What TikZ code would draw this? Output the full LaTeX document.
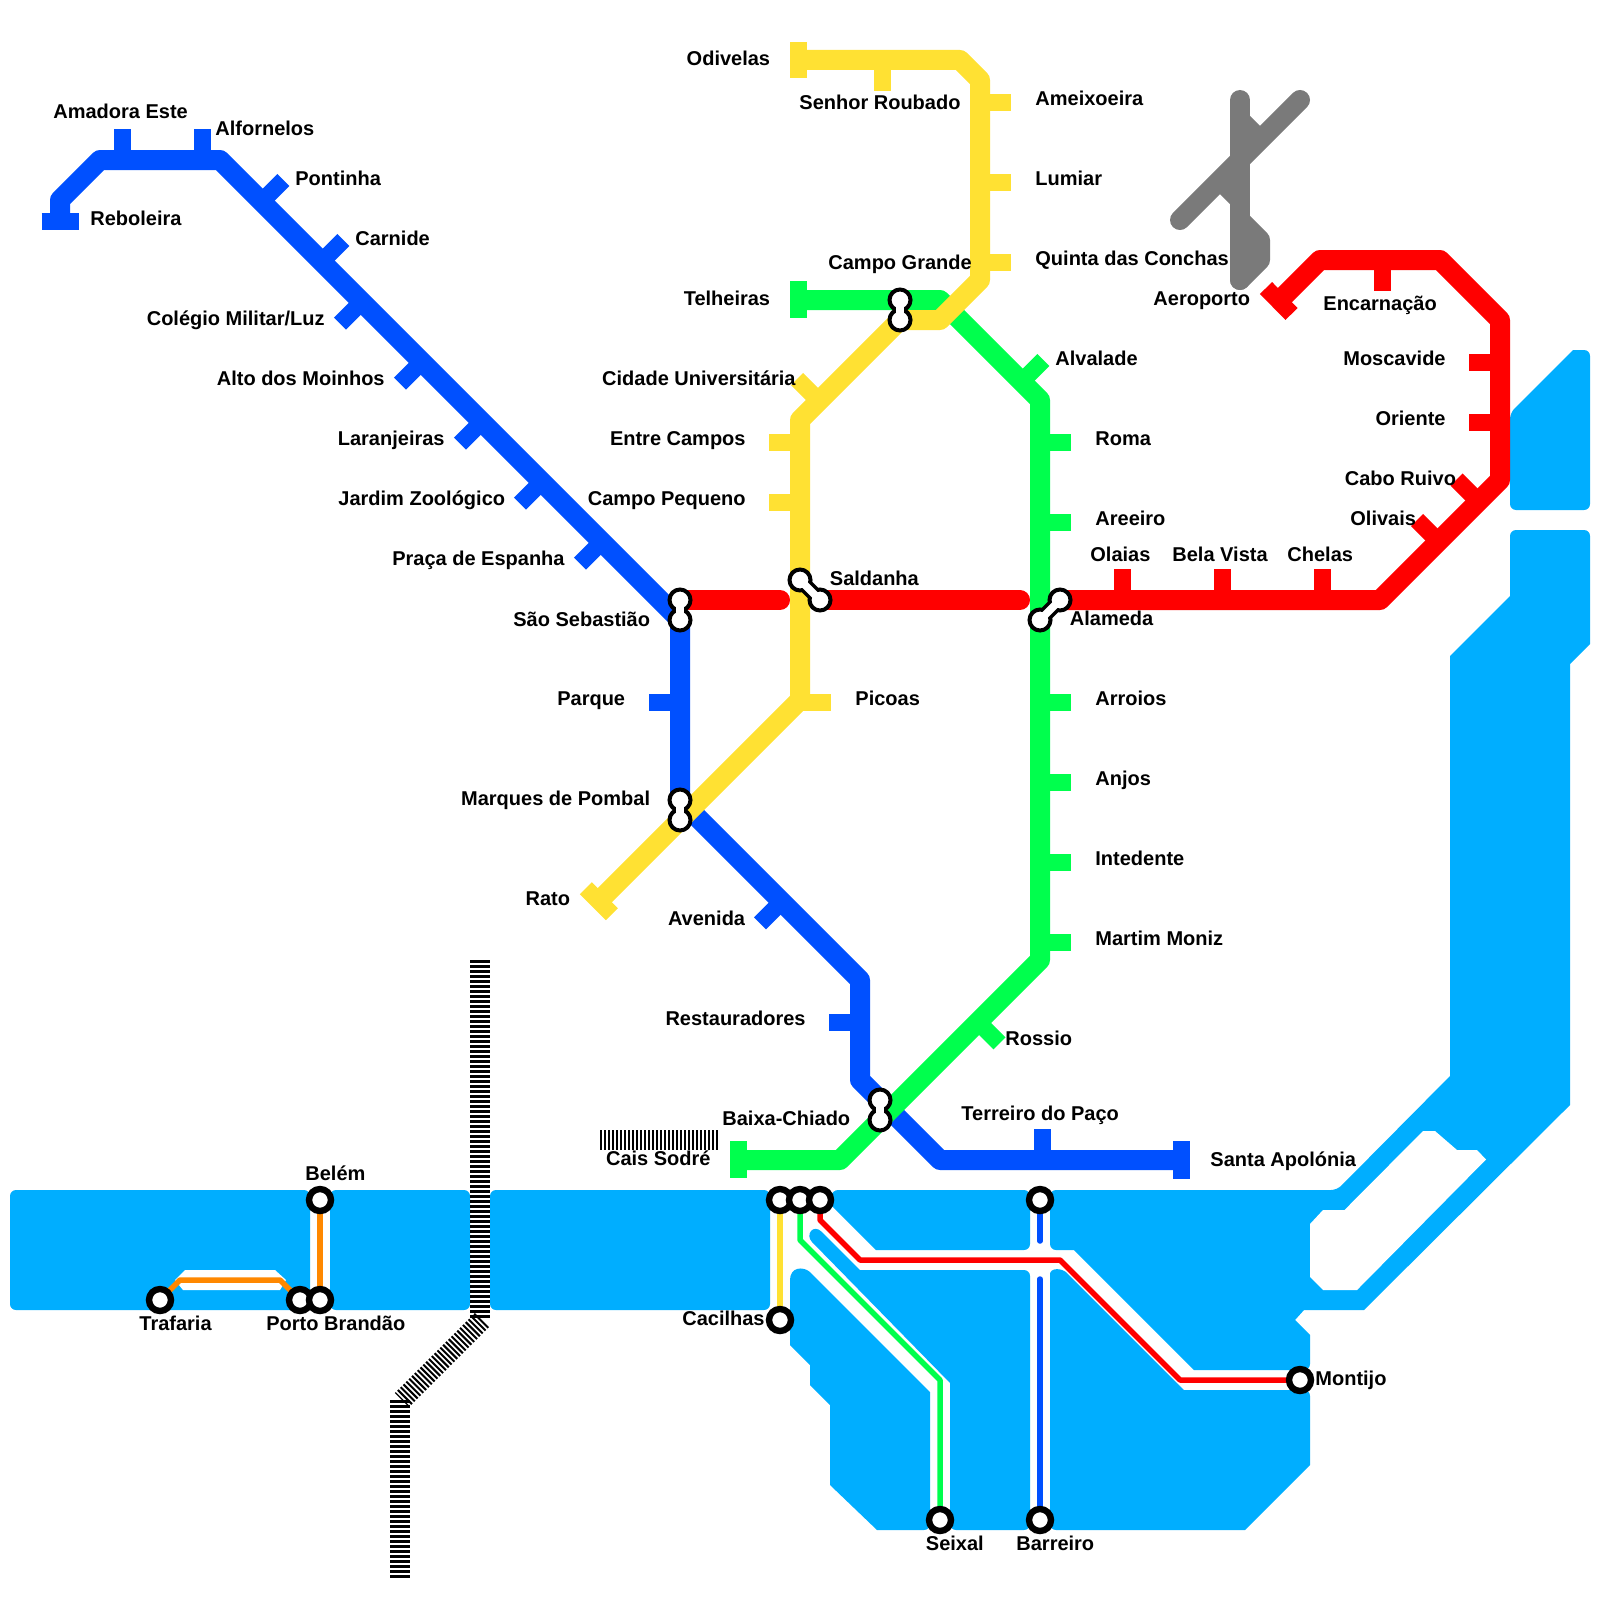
\documentclass[tikz,border=0pt]{standalone}
\usepackage{fontspec}
\setmainfont{Liberation Sans}
\usepackage{xcolor}
\usetikzlibrary{positioning}
\definecolor{MLBlue}{RGB}{0,80,255}
\definecolor{MLGreen}{RGB}{0,255,77}
\definecolor{MLYellow}{RGB}{255,225,51}
\definecolor{MLRed}{RGB}{255,0,0}
\definecolor{MLOrange}{RGB}{255,136,0}
\definecolor{MLWater}{RGB}{0,174,255}
\definecolor{MLGrey}{RGB}{122,122,122}

\begin{document}
\begin{tikzpicture}[
    x=0.5pt, y=-0.5pt,
    lbl/.style={font=\bfseries\fontsize{10pt}{12pt}\selectfont, inner sep=0pt, text=black},
    lw/.style={lbl, anchor=base west, xshift=-0.5pt, yshift=-0.5pt},
    le/.style={lbl, anchor=base east, xshift=0.5pt, yshift=-0.5pt},
    wtr/.style={fill=MLWater},
    rnd/.style={rounded corners=3pt},
    metro/.style={line width=10pt, line join=round},
    tck/.style={line width=8.5pt},
    ferry/.style={line width=2.75pt, line join=round},
    rail/.style={line width=10pt, dash pattern=on 1.25pt off 1.25pt},
    stn/.style={circle, draw=black, fill=white, line width=2pt, inner sep=0pt,
                outer sep=0pt, minimum size=10.5pt},
    fstn/.style={stn, line width=3.2pt, minimum size=11pt},
    ixo/.style={line width=7.4pt, black},
    ixi/.style={line width=3.8pt, white}
  ]
  \useasboundingbox (0,0) rectangle (1600,1600);

  % Station positions
  \coordinate (saoseba) at (680,600);
  \coordinate (saosebb) at (680,620);
  \coordinate (marqa) at (680,800);
  \coordinate (marqb) at (680,820);
  \coordinate (salda) at (800,580);
  \coordinate (saldb) at (820,600);
  \coordinate (alama) at (1060,600);
  \coordinate (alamb) at (1040,620);
  \coordinate (campa) at (900,300);
  \coordinate (campb) at (900,320);
  \coordinate (baixa) at (880,1100);
  \coordinate (baixb) at (880,1120);
  \coordinate (belem) at (320,1200);
  \coordinate (portoa) at (300,1300);
  \coordinate (portob) at (320,1300);
  \coordinate (trafaria) at (160,1300);
  \coordinate (cais) at (780,1200);
  \coordinate (caisb) at (800,1200);
  \coordinate (caisc) at (820,1200);
  \coordinate (cacilhas) at (780,1320);
  \coordinate (seixal) at (940,1520);
  \coordinate (terreiro) at (1040,1200);
  \coordinate (barreiro) at (1040,1520);
  \coordinate (montijo) at (1300,1380);

  % Water
  \fill[wtr, rnd] (10,1190) rectangle (310,1310);
  \fill[wtr, rnd] (330,1190) rectangle (470,1310);
  \fill[wtr, rnd] (490,1190) rectangle (770,1310);
  \fill[wtr] (876,1250) -- (830,1204) [rounded corners=3pt] -- (832,1190) -- (1030,1190) -- (1030,1250) [sharp corners] -- cycle;
  \fill[wtr] (812,1242) .. controls (805,1235) and (813,1223) .. (822,1232) -- (860,1270)
        [rounded corners=3pt] -- (1030,1270) -- (1030,1530) -- (950,1530) [sharp corners] -- (950,1383) -- cycle;
  \fill[wtr] (790,1345) -- (790,1280) .. controls (790,1267) and (803,1266) .. (810,1272)
        -- (930,1392) [rounded corners=3pt] -- (930,1530) [sharp corners] -- (877,1530) -- (830,1485)
        -- (830,1405) -- (810,1385) -- (810,1365) -- cycle;
  \fill[wtr] (1050,1280) .. controls (1050,1268) and (1062,1267) .. (1068,1274) -- (1184,1390)
        [rounded corners=3pt] -- (1310,1390) [sharp corners] -- (1310,1465) -- (1245,1530)
        [rounded corners=3pt] -- (1050,1530) -- cycle;
  \fill[wtr] (1337,1190) -- (1450,1076) -- (1450,656) -- (1510,596)
        [rounded corners=3pt] -- (1510,530) -- (1590,530) [sharp corners] -- (1590,644) -- (1570,664)
        -- (1570,1105) -- (1364,1310) -- (1304,1310) -- (1295,1320) -- (1310,1335)
        [rounded corners=3pt] -- (1310,1370) [sharp corners] -- (1194,1370) -- (1074,1250)
        [rounded corners=3pt] -- (1050,1250) -- (1050,1190) -- cycle;
  \fill[wtr] (1510,413) -- (1573,350) [rounded corners=3pt] -- (1590,350) -- (1590,510) -- (1510,510) -- cycle;
  \fill[white] (1323,1210) -- (1344.5,1210) -- (1423,1131) -- (1435,1131) -- (1457,1150)
        -- (1477,1150) -- (1486,1159.5) -- (1357,1290) -- (1323,1290) -- (1310,1277)
        -- (1310,1224) -- cycle;
  \fill[white] (185,1270) -- (275,1270) -- (286,1280) -- (280,1290) -- (183,1290) -- (175,1280) -- cycle;
  \fill[white] (trafaria) circle (13.5);
  \fill[white] (portoa) circle (12.5);

  % Rail
  \draw[rail] (480,960) -- (480,1318);
  \draw[rail, dash pattern=on 1pt off 1pt] (482,1320) -- (402,1400);
  \draw[rail] (400,1400) -- (400,1578);
  \draw[rail, dash pattern=on 1pt off 1pt] (600,1140) -- (720,1140);

  % Airport
  \draw[MLGrey, metro, line cap=round] (1240,100) -- (1240,280);
  \draw[MLGrey, metro, line cap=round] (1300,100) -- (1180,220);
  \draw[MLGrey, metro] (1240,120) -- (1260,140);
  \draw[MLGrey, metro] (1220,180) -- (1240,200);
  \draw[MLGrey, metro, line cap=round] (1240,220) -- (1260,240) -- (1260,260) -- (1240,280);

  % Ferries
  \draw[MLOrange, ferry] (trafaria) -- (180,1280) -- (280,1280) -- (portoa);
  \draw[MLOrange, ferry] (belem) -- (portob);
  \draw[MLYellow, ferry] (cais) -- (cacilhas);
  \draw[MLGreen, ferry] (caisb) -- (800,1240) -- (940,1380) -- (seixal);
  \draw[MLRed, ferry] (caisc) -- (820,1220) -- (860,1260) -- (1060,1260) -- (1180,1380) -- (montijo);
  \draw[MLBlue, ferry, line cap=round] (terreiro) -- (1040,1241);
  \draw[MLBlue, ferry, line cap=round] (1040,1279) -- (barreiro);

  % Red line
  \draw[MLRed, metro, line cap=round] (saoseba) -- (780,600);
  \draw[MLRed, metro, line cap=round] (saldb) -- (1020,600);
  \draw[MLRed, metro] (alama) -- (1380,600) -- (1500,480) -- (1500,320) -- (1440,260)
        -- (1320,260) -- (1280,300);
  \draw[MLRed, tck] (1266,288) -- (1291.5,314);
  \foreach \x in {1122.5, 1222.5, 1322.5} {
    \draw[MLRed, tck] (\x,600) -- (\x,569);
  }
  \draw[MLRed, tck] (1382.5,260) -- (1382.5,291);
  \foreach \y in {362.5, 422.5} {
    \draw[MLRed, tck] (1500,\y) -- (1469,\y);
  }
  \foreach \x/\y in {1478.5/501.5, 1439/542} {
    \draw[MLRed, tck] (\x,\y) -- ++(-22,-22);
  }

  % Blue line
  \draw[MLBlue, metro] (60,222) -- (60,200) -- (100,160) -- (220,160) -- (saosebb) -- (marqa)
        -- (860,980) -- (860,1080) -- (940,1160) -- (1180,1160);
  \draw[MLBlue, tck] (41.5,221.5) -- (78.5,221.5);
  \draw[MLBlue, tck] (1181.5,1141) -- (1181.5,1179);
  \foreach \x in {122.5, 202.5} {
    \draw[MLBlue, tck] (\x,160) -- (\x,129);
  }
  \draw[MLBlue, tck] (1042.5,1160) -- (1042.5,1129);
  \foreach \x/\y in {261.3/202, 321.3/262} {
    \draw[MLBlue, tck] (\x,\y) -- ++(22,-22);
  }
  \foreach \x/\y in {362/301.7, 422/361.7, 482/421.7, 542/481.7, 602/541.7, 782/901.3} {
    \draw[MLBlue, tck] (\x,\y) -- ++(-22,22);
  }
  \draw[MLBlue, tck] (680,702.5) -- (649,702.5);
  \draw[MLBlue, tck] (860,1022.5) -- (829,1022.5);

  % Green line
  \draw[MLGreen, metro] (800,300) -- (940,300) -- (1040,400) -- (1040,960) -- (840,1160) -- (740,1160);
  \draw[MLGreen, tck] (798.5,281) -- (798.5,318);
  \draw[MLGreen, tck] (738.5,1141) -- (738.5,1178);
  \foreach \y in {442.5, 522.5, 702.5, 782.5, 862.5, 942.5} {
    \draw[MLGreen, tck] (1040,\y) -- (1071,\y);
  }
  \draw[MLGreen, tck] (1021.3,382) -- ++(22,-22);
  \draw[MLGreen, tck] (977.5,1021.3) -- ++(22,22);

  % Yellow line
  \draw[MLYellow, metro] (800,60) -- (960,60) -- (980,80) -- (980,280) -- (940,320) -- (900,320)
        -- (800,420) -- (800,700) -- (600,900);
  \draw[MLYellow, tck] (798.5,42) -- (798.5,78);
  \draw[MLYellow, tck] (585.8,888.2) -- (611.8,914.2);
  \draw[MLYellow, tck] (882.5,60) -- (882.5,91);
  \foreach \y in {102.5, 182.5, 262.5} {
    \draw[MLYellow, tck] (980,\y) -- (1011,\y);
  }
  \foreach \y in {442.5, 502.5} {
    \draw[MLYellow, tck] (800,\y) -- (769,\y);
  }
  \draw[MLYellow, tck] (800,702.5) -- (831,702.5);
  \draw[MLYellow, tck] (819,401) -- ++(-22,-22);

  % Interchanges
  \foreach \a/\b in {saoseba/saosebb, marqa/marqb, salda/saldb, alama/alamb, campa/campb, baixa/baixb} {
    \draw[ixo] (\a) -- (\b);
    \node[stn] (\a n) at (\a) {};
    \node[stn] (\b n) at (\b) {};
    \draw[ixi] (\a) -- (\b);
  }
  \foreach \n in {belem, portoa, portob, trafaria, cais, caisb, caisc, cacilhas, seixal,
                  terreiro, barreiro, montijo} {
    \node[fstn] (\n n) at (\n) {};
  }

  % Blue labels
  \node[lw] (lamadora) at (54,118) {Amadora Este};
  \node[lw] (lalforn) at (216,134) {Alfornelos};
  \node[lw] (lpont) at (296,184) {Pontinha};
  \node[lw] (lcarn) at (356,244) {Carnide};
  \node[lw] (lrebo) at (91,224) {Reboleira};
  \node[le] (lcolegio) at (324,324) {Colégio Militar/Luz};
  \node[le] (lalto) at (384,384) {Alto dos Moinhos};
  \node[le] (llaran) at (444,444) {Laranjeiras};
  \node[le] (ljardim) at (504.5,504) {Jardim Zoológico};
  \node[le] (lpraca) at (564,564) {Praça de Espanha};
  \node[le] (lsaoseb) at (649.5,625) {São Sebastião};
  \node[le] (lparque) at (624.5,704) {Parque};
  \node[le] (lmarq) at (649.5,804) {Marques de Pombal};
  \node[le] (lavenida) at (744.5,924) {Avenida};
  \node[le] (lrest) at (805,1024) {Restauradores};
  \node[lw] (lterreiro) at (962,1119) {Terreiro do Paço};
  \node[lw] (lsanta) at (1211,1165) {Santa Apolónia};

  % Yellow labels
  \node[le] (lodiv) at (769.5,65) {Odivelas};
  \node[lw] (lsenhor) at (800,109) {Senhor Roubado};
  \node[lw] (lameix) at (1036,104) {Ameixoeira};
  \node[lw] (llumiar) at (1036,184) {Lumiar};
  \node[lw] (lquinta) at (1036,264) {Quinta das Conchas};
  \node[lw] (lcampog) at (829,268) {Campo Grande};
  \node[le] (lcidade) at (795,384) {Cidade Universitária};
  \node[le] (lentre) at (745,444) {Entre Campos};
  \node[le] (lcampop) at (745,504) {Campo Pequeno};
  \node[lw] (lpicoas) at (856,704) {Picoas};
  \node[le] (lrato) at (569.5,904) {Rato};

  % Green labels
  \node[le] (ltelh) at (769.5,304) {Telheiras};
  \node[lw] (lalval) at (1056,364) {Alvalade};
  \node[lw] (lroma) at (1096,444) {Roma};
  \node[lw] (lareeiro) at (1096,524) {Areeiro};
  \node[lw] (larroios) at (1096,704) {Arroios};
  \node[lw] (lanjos) at (1096,784) {Anjos};
  \node[lw] (lintend) at (1096,864) {Intedente};
  \node[lw] (lmartim) at (1096,944) {Martim Moniz};
  \node[lw] (lrossio) at (1006,1044) {Rossio};
  \node[lw] (lbaixa) at (723,1124) {Baixa-Chiado};
  \node[le] (lcais) at (710,1164) {Cais Sodré};

  % Red labels
  \node[lw] (lsald) at (830.5,584) {Saldanha};
  \node[lw] (lalam) at (1070.5,624) {Alameda};
  \node[lw] (lolaias) at (1091,560) {Olaias};
  \node[lw] (lbela) at (1173,560) {Bela Vista};
  \node[lw] (lchelas) at (1288,560) {Chelas};
  \node[lw] (lolivais) at (1351,524) {Olivais};
  \node[lw] (lcabo) at (1345.5,484) {Cabo Ruivo};
  \node[le] (lorient) at (1445,424) {Oriente};
  \node[le] (lmosc) at (1445,364) {Moscavide};
  \node[lw] (lencar) at (1324,309) {Encarnação};
  \node[le] (laero) at (1249.5,304) {Aeroporto};

  % Ferry labels
  \node[lw] (lbelem) at (306,1179) {Belém};
  \node[lw] (ltraf) at (140,1329) {Trafaria};
  \node[lw] (lporto) at (267,1329) {Porto Brandão};
  \node[le] (lcacil) at (764,1324) {Cacilhas};
  \node[lw] (lseixal) at (926.5,1549) {Seixal};
  \node[lw] (lbarr) at (1017,1549) {Barreiro};
  \node[lw] (lmont) at (1316,1384) {Montijo};
\end{tikzpicture}
\end{document}
